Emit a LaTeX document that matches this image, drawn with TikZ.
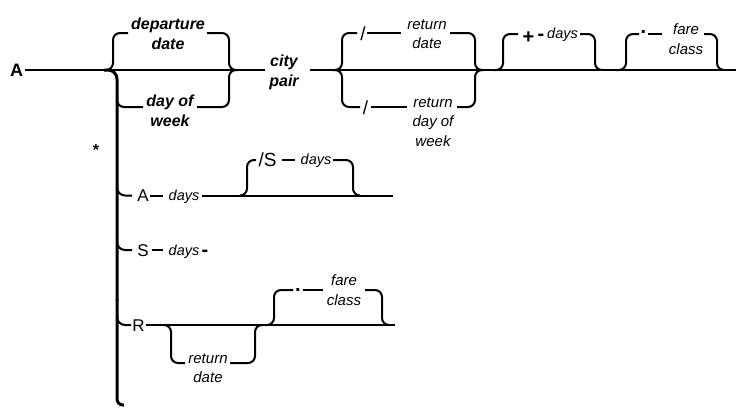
\documentclass[tikz,border=0pt]{standalone}
\usepackage{fontspec}
\setmainfont{Liberation Sans}
\begin{document}
\begin{tikzpicture}[x=1pt,y=-1pt,
  rail/.style={line width=2pt},
  stem/.style={line width=3pt},
  brace/.style={rail, rounded corners=7pt},
  turn/.style={rail, rounded corners=8pt},
  word/.style={font=\fontsize{15}{19.5}\selectfont\itshape, align=center, inner sep=0pt},
  bword/.style={font=\fontsize{16}{20}\selectfont\bfseries\itshape, align=center, inner sep=0pt},
  key/.style={font=\fontsize{17}{20}\selectfont, inner sep=0pt, anchor=base},
  bigkey/.style={font=\fontsize{19}{20}\selectfont, inner sep=0pt, anchor=base},
  glyph/.style={font=\fontsize{20}{20}\selectfont\bfseries, inner sep=0pt, anchor=base},
  small/.style={font=\fontsize{14.5}{17}\selectfont\itshape, inner sep=0pt, anchor=base},
]
\useasboundingbox (0,0) rectangle (736,408);

% ---------- main line ----------
\node[font=\fontsize{18}{20}\selectfont\bfseries, inner sep=0pt, anchor=base] (start) at (16.5,76.5) {A};
\coordinate (m0) at (25,70);
\coordinate (m1) at (265,70);
\draw[rail] (m0) -- (m1);

% departure date / day of week
\draw[brace] (104,70) -| (113,33) -- (128,33);
\node[bword] (dep) at (168,34) {departure\\date};
\draw[brace] (207,33) -| (229,70) -- (237,70);

\draw[brace] (117,92) |- (143,107);
\node[bword] (dow) at (170,111) {day of\\week};
\draw[brace] (197,107) -| (229,70) -- (237,70);

% stem carrying the alternatives below
\draw[stem, rounded corners=9pt] (104,70) -| (117,300);
\draw[stem, rounded corners=6pt] (117,299) |- (124,405);

\node[bword] (city) at (284,72) {city\\pair};

% second part of the main line
\coordinate (n0) at (310,70);
\coordinate (n1) at (736,70);
\draw[rail] (n0) -- (n1);

% return date / return day of week
\draw[brace] (333,70) -| (342,33) -- (357,33);
\node[bigkey] (sl1) at (363,40) {/};
\draw[rail] (367,33) -- (401,33);
\node[word] (rdate) at (427,34) {return\\date};
\draw[brace] (450,33) -| (475,70) -- (483,70);

\draw[brace] (333,70) -| (342,107) -- (360,107);
\node[bigkey] (sl2) at (365.5,114) {/};
\draw[rail] (371,107) -- (407,107);
\node[word] (rdow) at (433,122) {return\\day of\\week};
\draw[brace] (457,107) -| (475,70) -- (483,70);

% + days
\draw[brace] (494,70) -| (503,34) -- (518,34);
\node[glyph] (plus) at (528.5,43.5) {+};
\node[glyph] (dash1) at (541,40) {-};
\node[small] (pdays) at (562.5,38.5) {days};
\draw[brace] (580,34) -| (595,70) -- (602,70);

% . fare class
\draw[brace] (615,70) -| (626,34) -- (639,34);
\node[glyph] (dot1) at (643.5,33) {.};
\draw[rail] (648,34) -- (662,34);
\node[word] (fc1) at (686,39) {fare\\class};
\draw[brace] (704,34) -| (717,70) -- (724,70);

% ---------- alternatives ----------
\node[font=\fontsize{16}{18}\selectfont\bfseries, inner sep=0pt] (star) at (96,150) {*};

% A days [/S days]
\draw[turn] (117,183) |- (132,195.5);
\node[key] (ka) at (143,201.5) {A};
\draw[rail] (150,195.5) -- (163,195.5);
\node[small] (adays) at (184,200.5) {days};
\draw[rail] (202,195.5) -- (393,195.5);
\draw[brace] (240,195.5) -| (247,160) -- (256,160);
\node[bigkey] (slS) at (267.5,166.5) {/S};
\draw[rail] (282,160) -- (295,160);
\node[small] (sdays) at (316,164.5) {days};
\draw[brace] (333,160) -| (353,195.5) -- (360,195.5);

% S days
\draw[turn] (117,238) |- (132,250);
\node[key] (ks) at (143,256) {S};
\draw[rail] (152,250) -- (163,250);
\node[small] (sdays2) at (184,255) {days};
\node[glyph] (dash2) at (205,256) {-};

% R [return date] [. fare class]
\draw[turn] (117,313) |- (131,325);
\node[key] (kr) at (138.5,331) {R};
\draw[rail] (146,325) -- (395,325);
\draw[brace] (163,325) -| (171,363) -- (185,363);
\node[word] (rdate2) at (208,368) {return\\date};
\draw[brace] (230,363) -| (255,325) -- (262,325);

\draw[brace] (265,325) -| (274,290) -- (293,290);
\node[glyph] (dot2) at (298,291) {.};
\draw[rail] (303,290) -- (323,290);
\node[word] (fc2) at (344,290) {fare\\class};
\draw[brace] (365,290) -| (382,325) -- (389,325);
\end{tikzpicture}
\end{document}
